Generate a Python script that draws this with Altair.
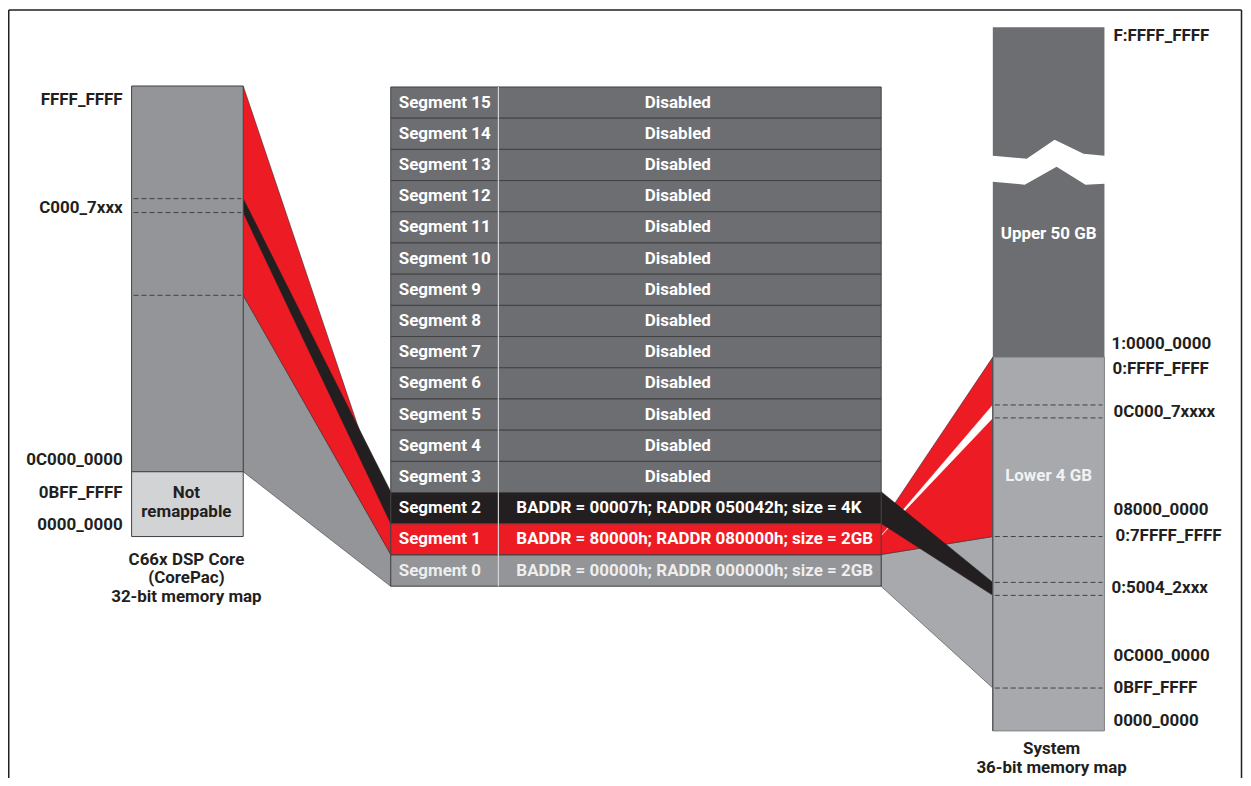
import altair as alt
import pandas as pd

# ---------------- canvas (1 unit = 1 page pixel) ----------------
W, H = 1239, 770
X0, Y0 = 8, 8
FONT = "Roboto, Liberation Sans Narrow, sans-serif"
FS = 17

RED, BLACK, DARK, MID, LIGHT, PALE, EDGE = (
    "#ed1c24", "#231f20", "#6d6e71", "#939598", "#a7a9ac", "#d1d3d4", "#414042")

# ---------------- middle table: segment registers ----------------
seg_names = ["Segment 15", "Segment 14", "Segment 13", "Segment 12", "Segment 11",
             "Segment 10", "Segment 9", "Segment 8", "Segment 7", "Segment 6",
             "Segment 5", "Segment 4", "Segment 3", "Segment 2", "Segment 1", "Segment 0"]
seg_values = ["Disabled"] * 13 + [
    "BADDR = 00007h; RADDR 050042h; size = 4K",
    "BADDR = 80000h; RADDR 080000h; size = 2GB",
    "BADDR = 00000h; RADDR 000000h; size = 2GB"]
seg_fills = [DARK] * 13 + [BLACK, RED, MID]
seg_text_colors = ["#ffffff"] * 15 + ["#eeeeee"]
table_x = [392, 500, 884]          # left edge, column divider, right edge
table_top, row_h = 86, 31.3
disabled_x, value_x, name_x = 680, 518, 400

# ---------------- left map: C66x CorePac 32-bit ----------------
left_x = [132, 244]
left_blocks_y = [85, 472, 537]
left_fills = [MID, PALE]
left_dash_y = [198, 212, 295]
left_labels = ["FFFF_FFFF", "C000_7xxx", "0C000_0000", "0BFF_FFFF", "0000_0000"]
left_label_y = [99, 207, 460, 493, 525]
left_label_x = 123
left_caption = ["C66x DSP Core", "(CorePac)", "32-bit memory map"]
left_caption_y = [561, 579, 598]
left_caption_x = 187
left_block_text = ["Not", "remappable"]
left_block_text_y = [493, 512]

# ---------------- right map: System 36-bit ----------------
right_x = [996, 1108]
upper_top = 26
brk_top_x = [996, 1030, 1058, 1087, 1108]
brk_top_y = [155, 158, 139, 153, 155]
brk_bot_x = [996, 1028, 1060, 1089, 1108]
brk_bot_y = [181, 184, 166, 184, 183]
lower_top, lower_bottom = 357, 732
right_dash_y = [405, 418, 537, 583, 596, 689]
right_labels = ["F:FFFF_FFFF", "1:0000_0000", "0:FFFF_FFFF", "0C000_7xxxx", "08000_0000",
                "0:7FFFF_FFFF", "0:5004_2xxx", "0C000_0000", "0BFF_FFFF", "0000_0000"]
right_label_x = [1117, 1115, 1116, 1117, 1117, 1119, 1115, 1117, 1117, 1117]
right_label_y = [35, 344, 369, 412, 510, 536, 589, 657, 689, 722]
right_caption = ["System", "36-bit memory map"]
right_caption_y = [750, 769]
right_caption_x = 1055
region_names = ["Upper 50 GB", "Lower 4 GB"]
region_y = [234, 476]
region_x = 1052

# ---------------- mapping bands (source edge -> destination edge) ----------------
# name, fill, xa, ya_top, ya_bot, xb, yb_top, yb_bot
bands = [
    ("L0", MID, 244, 295, 472, 392, 555, 587),
    ("L1", RED, 244, 85, 295, 392, 524, 555),
    ("L2", BLACK, 244, 198, 212, 392, 492, 524),
    ("R0", LIGHT, 884, 555, 587, 996, 537, 689),
    ("R1", RED, 884, 524, 555, 996, 357, 537),
    ("Rgap", "#ffffff", 884, 536, 536, 996, 405, 418),
    ("R2", BLACK, 884, 492, 524, 996, 583, 596),
]

# frame
frame = pd.DataFrame({"x": [8.75, 8.75, 1245.5], "x2": [8.75, 1245.5, 1245.5],
                      "y": [8.75, 8.75, 8.75], "y2": [786, 8.75, 786]})

# ---------------- scales ----------------
xs = alt.Scale(domain=[X0, X0 + W], nice=False, zero=False)
ys = alt.Scale(domain=[Y0, Y0 + H], nice=False, zero=False, reverse=True)


def X(f="x"):
    return alt.X(f"{f}:Q", scale=xs, axis=None)


def Y(f="y"):
    return alt.Y(f"{f}:Q", scale=ys, axis=None)


layers = []

# frame lines
layers.append(alt.Chart(frame).mark_rule(color="#231f20", strokeWidth=1.5).encode(
    x=X(), x2="x2:Q", y=Y(), y2="y2:Q"))

# mapping bands
for name, fill, xa, a1, a2, xb, b1, b2 in bands:
    df = pd.DataFrame({"x": [xa, xb], "y": [a1, b1], "y2": [a2, b2]})
    stroke = "#ffffff" if fill == "#ffffff" else "#231f20"
    layers.append(alt.Chart(df).mark_area(
        fill=fill, stroke=stroke, strokeWidth=0.5, orient="vertical",
        interpolate="linear", opacity=1).encode(x=X(), y=Y(), y2="y2:Q"))

# rectangles
rects = []
for i in range(2):
    rects.append(dict(x=left_x[0], x2=left_x[1], y=left_blocks_y[i], y2=left_blocks_y[i + 1],
                      fill=left_fills[i], stroke=EDGE))
for i, f in enumerate(seg_fills):
    rects.append(dict(x=table_x[0], x2=table_x[2], y=table_top + i * row_h,
                      y2=table_top + (i + 1) * row_h, fill=f, stroke=EDGE))
rects.append(dict(x=right_x[0], x2=right_x[1], y=lower_top, y2=lower_bottom,
                  fill=LIGHT, stroke="#808285"))
layers.append(alt.Chart(pd.DataFrame(rects)).mark_rect(strokeWidth=1).encode(
    x=X(), x2="x2:Q", y=Y(), y2="y2:Q",
    fill=alt.Fill("fill:N", scale=None), stroke=alt.Stroke("stroke:N", scale=None)))

# upper 50 GB broken block
up1 = pd.DataFrame({"x": brk_top_x, "y": [upper_top] * 5, "y2": brk_top_y})
up2 = pd.DataFrame({"x": brk_bot_x, "y": brk_bot_y, "y2": [lower_top] * 5})
for df in (up1, up2):
    layers.append(alt.Chart(df).mark_area(fill=DARK, orient="vertical",
                                          interpolate="linear").encode(
        x=X(), y=Y(), y2="y2:Q"))

# edges of right column
edges = pd.DataFrame({"x": [right_x[0]], "x2": [right_x[0]], "y": [lower_top], "y2": [lower_bottom]})
layers.append(alt.Chart(edges).mark_rule(color=EDGE, strokeWidth=1).encode(
    x=X(), x2="x2:Q", y=Y(), y2="y2:Q"))

# table column divider
div = pd.DataFrame({"x": [table_x[1]], "x2": [table_x[1]], "y": [table_top],
                    "y2": [table_top + len(seg_names) * row_h]})
layers.append(alt.Chart(div).mark_rule(color=PALE, strokeWidth=1.2).encode(
    x=X(), x2="x2:Q", y=Y(), y2="y2:Q"))

# dashed lines
dash_rows = [dict(x=left_x[0] + 2, x2=left_x[1] - 2, y=v, y2=v) for v in left_dash_y] + \
            [dict(x=right_x[0] + 2, x2=right_x[1] - 2, y=v, y2=v) for v in right_dash_y]
layers.append(alt.Chart(pd.DataFrame(dash_rows)).mark_rule(
    color=EDGE, strokeWidth=1, strokeDash=[5, 3]).encode(
    x=X(), x2="x2:Q", y=Y(), y2="y2:Q"))

# texts
texts = []
for t, y in zip(left_labels, left_label_y):
    texts.append(dict(text=t, x=left_label_x, y=y, align="right", color=BLACK, size=FS))
for t, x, y in zip(right_labels, right_label_x, right_label_y):
    texts.append(dict(text=t, x=x, y=y, align="left", color=BLACK, size=FS))
for t, y in zip(left_caption, left_caption_y):
    texts.append(dict(text=t, x=left_caption_x, y=y, align="center", color=BLACK, size=FS))
for t, y in zip(right_caption, right_caption_y):
    texts.append(dict(text=t, x=right_caption_x, y=y, align="center", color=BLACK, size=FS))
for t, y in zip(left_block_text, left_block_text_y):
    texts.append(dict(text=t, x=left_caption_x, y=y, align="center", color=BLACK, size=FS))
for t, y, c in zip(region_names, region_y, ["#ffffff", "#f1f2f2"]):
    texts.append(dict(text=t, x=region_x, y=y, align="center", color=c, size=FS))
for i, (n, v, c) in enumerate(zip(seg_names, seg_values, seg_text_colors)):
    yc = table_top + (i + 0.5) * row_h
    texts.append(dict(text=n, x=name_x, y=yc, align="left", color=c, size=FS))
    if v == "Disabled":
        texts.append(dict(text=v, x=disabled_x, y=yc, align="center", color=c, size=FS))
    else:
        texts.append(dict(text=v, x=value_x, y=yc, align="left", color=c, size=FS))
tdf = pd.DataFrame(texts)
for a in ["left", "center", "right"]:
    layers.append(alt.Chart(tdf[tdf["align"] == a]).mark_text(
        font=FONT, fontWeight="bold", baseline="middle", align=a).encode(
        x=X(), y=Y(), text="text:N",
        color=alt.Color("color:N", scale=None), size=alt.Size("size:Q", scale=None)))

chart = alt.layer(*layers).properties(
    width=W, height=H, padding=0, background="#ffffff",
    autosize=alt.AutoSizeParams(type="none")
).configure_view(stroke=None)

chart.save("out.html", embed_options={"renderer": "svg", "actions": False})
